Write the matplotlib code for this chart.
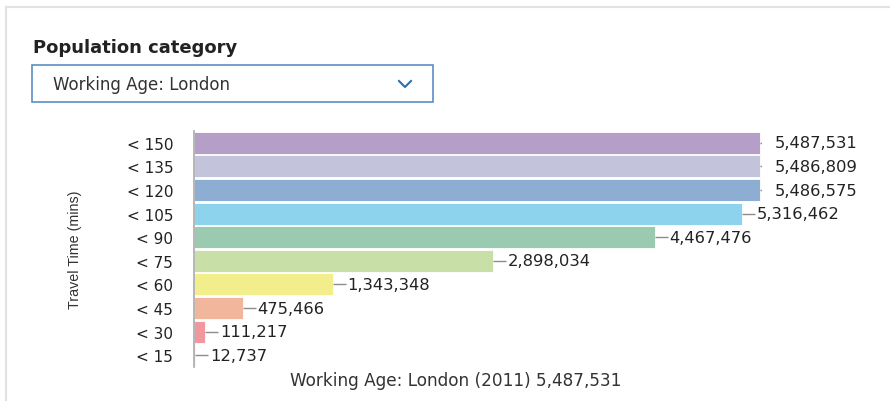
import matplotlib
matplotlib.use("Agg")
import matplotlib.pyplot as plt
from matplotlib.lines import Line2D
from matplotlib.patches import Rectangle

plt.rcParams['font.family'] = ['DejaVu Sans']

categories = ["< 150", "< 135", "< 120", "< 105", "< 90", "< 75", "< 60", "< 45", "< 30", "< 15"]
values = [5487531, 5486809, 5486575, 5316462, 4467476, 2898034, 1343348, 475466, 111217, 12737]
colors = ["#b59fc8", "#c3c4dc", "#8daed2", "#8dd3ee", "#9acbb0",
          "#c8dfa8", "#f3ee8c", "#f2b69c", "#f0989e", "#b08a96"]
dropdown_text = "Working Age: London"
footer = "Working Age: London (2011) 5,487,531"

W, H = 890, 402
fig = plt.figure(figsize=(W / 100, H / 100), dpi=100)

def fx(px):
    return px / W

def fy(py):
    return 1 - py / H

# outer panel border (top and left)
fig.add_artist(Line2D([fx(6), 1], [fy(8), fy(8)], color="#e2e2e2", lw=1.5))
fig.add_artist(Line2D([fx(6), fx(6)], [fy(8), 0], color="#e2e2e2", lw=1.5))

# header + dropdown
fig.text(fx(33), fy(48), "Population category", fontsize=13, fontweight="bold",
         color="#222222", va="center", ha="left")
fig.add_artist(Rectangle((fx(32), fy(103)), fx(433) - fx(32), fy(66) - fy(103),
                         transform=fig.transFigure, fill=False, edgecolor="#5b8fc2", lw=1.2))
fig.text(fx(53), fy(85), dropdown_text, fontsize=12, color="#333333", va="center", ha="left")
fig.add_artist(Line2D([fx(399), fx(405), fx(411)], [fy(82), fy(88), fy(82)],
                      color="#2f6fae", lw=1.5))

# bar chart area
ax_left, ax_right, ax_top, ax_bot = 194, 762, 132, 368
ax = fig.add_axes([fx(ax_left), fy(ax_bot), fx(ax_right) - fx(ax_left), fy(ax_top) - fy(ax_bot)])
n = len(categories)
ypos = list(range(n))
xmax = max(values) * (ax_right - ax_left) / (760 - ax_left)
ax.set_xlim(0, xmax)
ax.set_ylim(n - 0.5, -0.5)

ax.barh(ypos, values, height=0.93, color=colors, edgecolor="white", linewidth=0.6)

dx = 13 / (ax_right - ax_left) * xmax
for y, v in zip(ypos, values):
    ax.plot([v, v + dx], [y, y], color="#8c8c8c", lw=1, solid_capstyle="butt")
    ax.annotate(f"{v:,}", (v, y), xytext=(10.5, 0), textcoords="offset points",
                fontsize=11.8, color="#222222", va="center", ha="left",
                annotation_clip=False)

for s in ["top", "right", "bottom"]:
    ax.spines[s].set_visible(False)
ax.spines["left"].set_color("#aaaaaa")
ax.spines["left"].set_linewidth(1.2)
ax.set_xticks([])
ax.set_yticks(ypos)
ax.set_yticklabels(categories, fontsize=11, color="#222222")
ax.tick_params(axis="y", length=0, pad=15)

fig.text(fx(75), fy(250), "Travel Time (mins)", rotation=90, fontsize=10.3,
         family=["Liberation Sans Narrow", "Liberation Sans", "DejaVu Sans"],
         color="#333333", va="center", ha="center")
fig.text(fx(456), fy(381), footer, fontsize=12.2, color="#333333", va="center", ha="center")

fig.savefig("out.png", dpi=100)
